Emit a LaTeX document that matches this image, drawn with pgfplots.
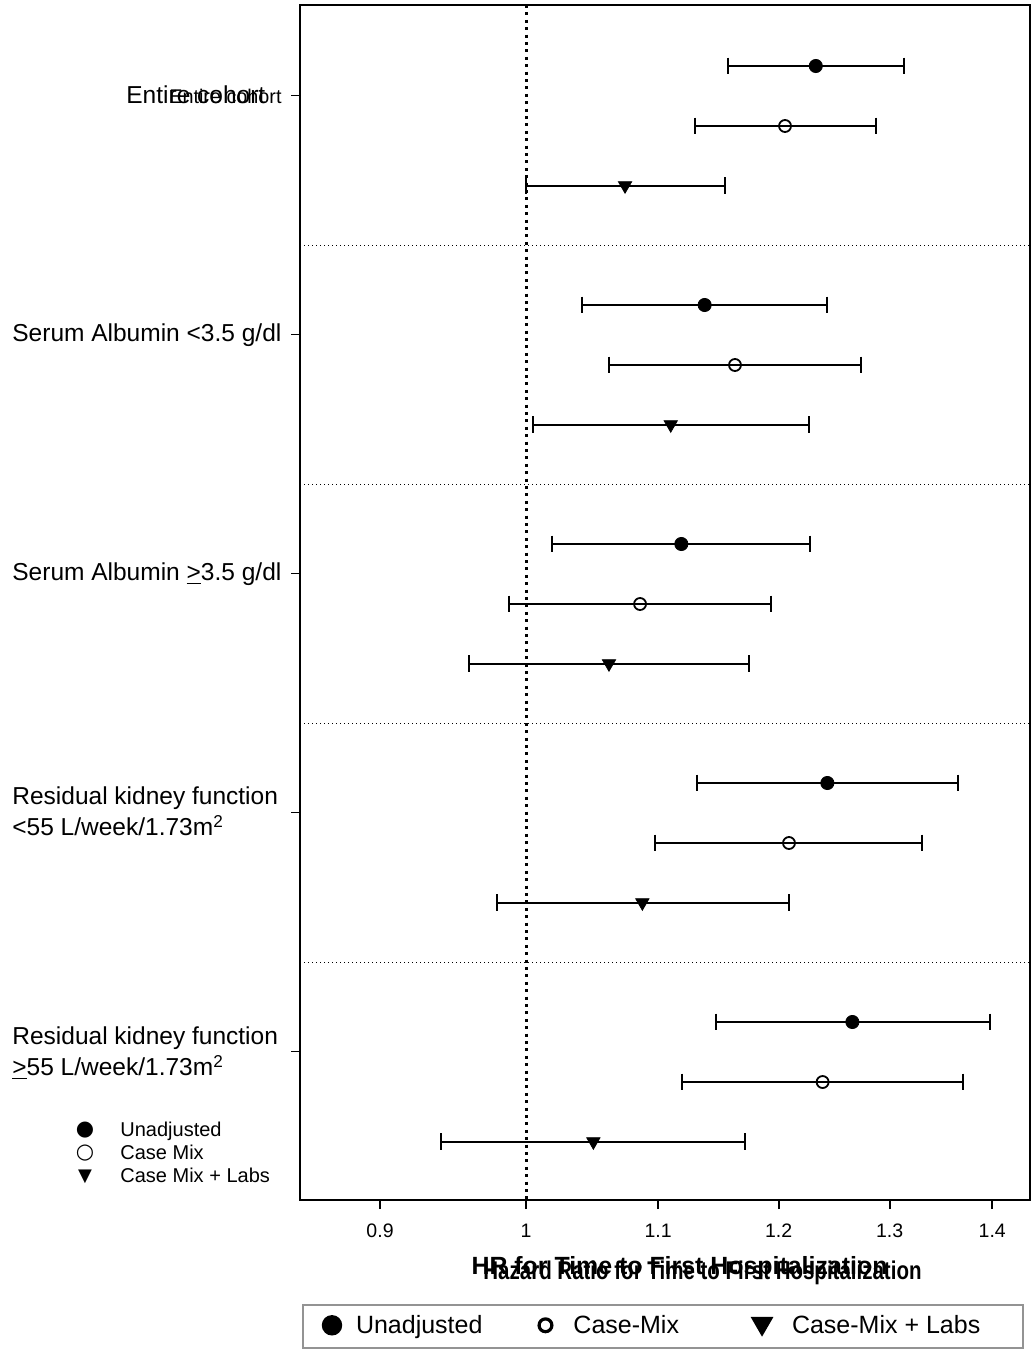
\documentclass[border=0pt]{standalone}
\usepackage{fontspec}
\setmainfont{Liberation Sans}
\newfontfamily\dejavu{DejaVu Sans}
\usepackage{graphicx}
\usepackage{pgfplots}
\pgfplotsset{compat=1.18}

\begin{document}
\begin{tikzpicture}
\path[use as bounding box] (0,0) rectangle (516pt,674.5pt);
\begin{axis}[
  at={(150pt,74.5pt)}, anchor=south west,
  scale only axis, width=365pt, height=597.5pt,
  xmode=log, xmin=0.8495, xmax=1.4387,
  ymin=5, ymax=1200, y dir=reverse,
  xtick={0.9,1,1.1,1.2,1.3,1.4},
  xticklabels={0.9,1,1.1,1.2,1.3,1.4},
  xminorticks=false, yminorticks=false,
  ytick={95.5,334.5,573.5,812.5,1051.5},
  yticklabels={},
  tick pos=left, tick align=outside,
  major tick length=4.5pt,
  axis line style={line width=1pt},
  xtick style={line width=1pt, black},
  ytick style={line width=0.6pt, black},
  xticklabel style={font=\fontsize{9.75}{12}\selectfont, anchor=north, inner sep=0pt, text height=7pt},
  xticklabel shift=7pt,
  unbounded coords=jump,
  legend columns=3,
  legend cell align=left,
  legend style={at={(0.00274,-0.087)}, anchor=north west, draw=gray!85, line width=1pt,
    inner xsep=0pt, inner ysep=4.75pt, font=\fontsize{12.5}{15}\selectfont,
    /tikz/column sep=0pt,
    nodes={inner sep=0pt, text height=9.5pt, text depth=2.5pt}},
]
% reference line at HR = 1
\addplot[forget plot, black, line width=1.5pt, dash pattern=on 1.5pt off 2.2pt] coordinates {(1,5) (1,1200)};
% group separators
\addplot[forget plot, black, line width=0.6pt, dash pattern=on 0.6pt off 1.4pt] coordinates {
 (0.8495,245.25) (1.4387,245.25) (nan,nan)
 (0.8495,484.25) (1.4387,484.25) (nan,nan)
 (0.8495,723.25) (1.4387,723.25) (nan,nan)
 (0.8495,962.25) (1.4387,962.25)};
% confidence intervals: Unadjusted
\addplot[forget plot, black, line width=1pt, mark=|, mark size=4.2pt] coordinates {
 (1.1567,66) (1.3136,66) (nan,nan)
 (1.0410,305) (1.2426,305) (nan,nan)
 (1.0187,544) (1.2277,544) (nan,nan)
 (1.1311,783) (1.3658,783) (nan,nan)
 (1.1468,1022) (1.3979,1022)};
% confidence intervals: Case-Mix
\addplot[forget plot, black, line width=1pt, mark=|, mark size=4.2pt] coordinates {
 (1.1297,126) (1.2873,126) (nan,nan)
 (1.0620,365) (1.2738,365) (nan,nan)
 (0.9878,604) (1.1934,604) (nan,nan)
 (1.0978,843) (1.3308,843) (nan,nan)
 (1.1190,1082) (1.3705,1082)};
% confidence intervals: Case-Mix + Labs
\addplot[forget plot, black, line width=1pt, mark=|, mark size=4.2pt] coordinates {
 (1.0000,185.5) (1.1542,185.5) (nan,nan)
 (1.0048,424.5) (1.2263,424.5) (nan,nan)
 (0.9599,663.5) (1.1743,663.5) (nan,nan)
 (0.9791,902.5) (1.2090,902.5) (nan,nan)
 (0.9405,1141.5) (1.1708,1141.5)};
% point estimates
\addplot[only marks, black, mark=*, mark size=3.3pt,
  legend image code/.code={\path (-14pt,0pt) (11.5pt,0pt);
    \draw[mark size=4.6pt] plot coordinates {(0pt,0.6pt)};}] coordinates {
 (1.2326,66) (1.1376,305) (1.1186,544) (1.2429,783) (1.2656,1022)};
\addplot[only marks, black, mark=o, mark size=3.0pt, mark options={fill=white, line width=0.9pt},
  legend image code/.code={\path (-31pt,0pt) (13.5pt,0pt);
    \draw[mark size=3.2pt, mark options={fill=white, line width=1.6pt}] plot coordinates {(0pt,0.6pt)};}] coordinates {
 (1.2055,126) (1.1628,365) (1.0858,604) (1.2090,843) (1.2387,1082)};
\addplot[only marks, black, mark=triangle*, mark size=3.85pt, mark options={rotate=180},
  legend image code/.code={\path (-41pt,0pt) (14.5pt,0pt);
    \draw[mark size=5.6pt, mark options={rotate=180}] plot coordinates {(0pt,1.5pt)};}] coordinates {
 (1.0741,185.5) (1.1101,424.5) (1.0617,663.5) (1.0876,902.5) (1.0498,1141.5)};
\legend{Unadjusted, Case-Mix, Case-Mix + Labs\rule{21.5pt}{0pt}}
\end{axis}

\begin{scope}[x=0.5pt, y=-0.5pt, shift={(0pt,674.5pt)}]
\node[anchor=base west, inner sep=0pt, font=\fontsize{12.25}{15}\selectfont] at (126,104) {Entire cohort};
\node[anchor=base east, inner sep=0pt, font=\fontsize{9.9}{12}\selectfont] at (282,103.3) {Entire cohort};
\node[anchor=base west, inner sep=0pt, font=\fontsize{12.25}{15}\selectfont] at (12,342) {Serum Albumin <3.5 g/dl};
\node[anchor=base west, inner sep=0pt, font=\fontsize{12.25}{15}\selectfont] at (12,581) {Serum Albumin \underline{>}3.5 g/dl};
\node[anchor=base west, inner sep=0pt, font=\fontsize{12.25}{15}\selectfont] at (12,805) {Residual kidney function};
\node[anchor=base west, inner sep=0pt, font=\fontsize{12.25}{15}\selectfont] at (12,836) {<55 L/week/1.73m\textsuperscript{2}};
\node[anchor=base west, inner sep=0pt, font=\fontsize{12.25}{15}\selectfont] at (12,1045) {Residual kidney function};
\node[anchor=base west, inner sep=0pt, font=\fontsize{12.25}{15}\selectfont] at (12,1076) {\underline{>}55 L/week/1.73m\textsuperscript{2}};
% inner legend
\node[inner sep=0pt, font=\dejavu\fontsize{10.5}{12}\selectfont] at (85,1130) {●};
\node[inner sep=0pt, font=\dejavu\fontsize{10.5}{12}\selectfont] at (85,1153) {○};
\node[inner sep=0pt, font=\dejavu\fontsize{9}{12}\selectfont] at (85,1177) {▼};
\node[anchor=base west, inner sep=0pt, font=\fontsize{10}{12}\selectfont] at (120,1137) {Unadjusted};
\node[anchor=base west, inner sep=0pt, font=\fontsize{10}{12}\selectfont] at (120,1160) {Case Mix};
\node[anchor=base west, inner sep=0pt, font=\fontsize{10}{12}\selectfont] at (120,1183) {Case Mix + Labs};
% axis titles (overlapping, as in the reference)
\node[anchor=base, inner sep=0pt, font=\bfseries\fontsize{12.45}{15}\selectfont] at (679.5,1275) {HR for Time to First Hospitalization};
\node[anchor=base, inner sep=0pt, font=\bfseries\fontsize{10.25}{12}\selectfont] at (702.5,1280) {\scalebox{1}[1.25]{Hazard Ratio for Time to First Hospitalization}};
\end{scope}
\end{tikzpicture}
\end{document}
